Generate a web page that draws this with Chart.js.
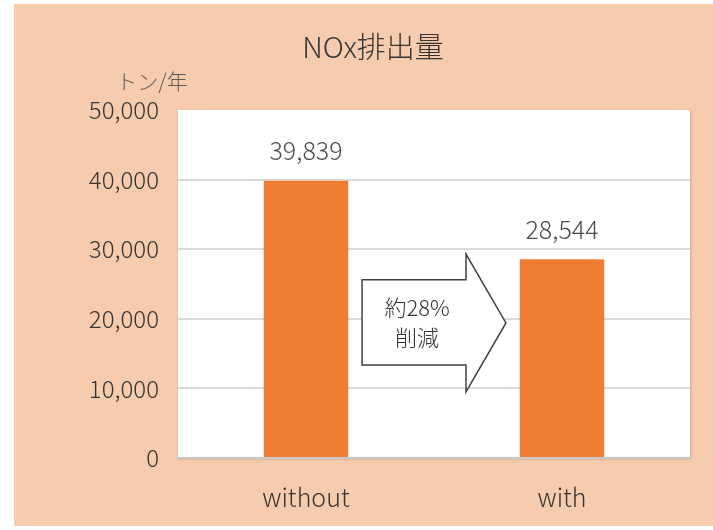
<!DOCTYPE html>
<html>
<head>
<meta charset="utf-8">
<script src="https://cdn.jsdelivr.net/npm/chart.js@4.4.0/dist/chart.umd.min.js"></script>
<style>
html, body { margin: 0; padding: 0; background: #ffffff; }
#wrap { width: 713px; height: 530px; }
</style>
</head>
<body>
<div id="wrap"><canvas id="noxchart"></canvas></div>
<script>
// NOx emissions, tonnes per year
var categories = ["without", "with"]
var emissions = [39839, 28544]
var yTicks = [0, 10000, 20000, 30000, 40000, 50000]
var chartTitle = "NOx排出量"
var unitLabel = "トン/年"
var arrowText = ["約28%", "削減"]

var FONT = "'Noto Sans CJK JP', 'Noto Sans', sans-serif"
var TEXT = "#333333"

function fmt(v) {
    return v.toLocaleString("en-US")
}

// peach panel, white plot area, title and unit
var backdrop = {
    id: "backdrop",
    beforeDraw: function(chart) {
        var ctx = chart.ctx, a = chart.chartArea
        ctx.save()
        ctx.fillStyle = "#ffffff"
        ctx.fillRect(0, 0, chart.width, chart.height)
        ctx.fillStyle = "#f7cbad"
        ctx.fillRect(14, 4, chart.width - 14, 522)
        ctx.shadowColor = "rgba(0,0,0,0.18)"
        ctx.shadowBlur = 3
        ctx.shadowOffsetX = 1
        ctx.shadowOffsetY = 1
        ctx.fillStyle = "#ffffff"
        ctx.fillRect(a.left, a.top, a.right - a.left, a.bottom - a.top)
        ctx.restore()

        ctx.save()
        ctx.fillStyle = TEXT
        ctx.textAlign = "center"
        ctx.textBaseline = "middle"
        ctx.font = "300 29px " + FONT
        ctx.fillText(chartTitle, 373, 47)
        ctx.fillStyle = "#595959"
        ctx.font = "300 21px " + FONT
        ctx.fillText(unitLabel, 152, 81)
        ctx.restore()
    }
}

// value labels over the bars and the reduction arrow
var overlay = {
    id: "overlay",
    afterDatasetsDraw: function(chart) {
        var ctx = chart.ctx
        var meta = chart.getDatasetMeta(0)
        ctx.save()
        ctx.fillStyle = "#4a4a4a"
        ctx.font = "300 25px " + FONT
        ctx.textAlign = "center"
        ctx.textBaseline = "middle"
        meta.data.forEach(function(bar, i) {
            ctx.fillText(fmt(emissions[i]), bar.x, bar.y - 30)
        })
        ctx.restore()

        var xs = chart.scales.x, ys = chart.scales.y
        var x0 = xs.getPixelForValue(0), x1 = xs.getPixelForValue(1)
        var mid = (x0 + x1) / 2, s = x1 - x0
        var left = mid - 0.281 * s
        var neck = mid + 0.125 * s
        var tip = mid + 0.281 * s
        var bodyTop = ys.getPixelForValue(25600)
        var bodyBot = ys.getPixelForValue(13350)
        var headTop = ys.getPixelForValue(29300)
        var headBot = ys.getPixelForValue(9500)
        var cy = ys.getPixelForValue(19400)

        ctx.save()
        ctx.beginPath()
        ctx.moveTo(left, bodyTop)
        ctx.lineTo(neck, bodyTop)
        ctx.lineTo(neck, headTop)
        ctx.lineTo(tip, cy)
        ctx.lineTo(neck, headBot)
        ctx.lineTo(neck, bodyBot)
        ctx.lineTo(left, bodyBot)
        ctx.closePath()
        ctx.fillStyle = "#ffffff"
        ctx.fill()
        ctx.strokeStyle = "#404040"
        ctx.lineWidth = 1.5
        ctx.stroke()

        ctx.fillStyle = TEXT
        ctx.font = "300 22px " + FONT
        ctx.textAlign = "center"
        ctx.textBaseline = "middle"
        var tx = (left + neck) / 2 + 3
        ctx.fillText(arrowText[0], tx, cy - 15)
        ctx.fillText(arrowText[1], tx, cy + 15)
        ctx.restore()
    }
}

new Chart(document.getElementById("noxchart"), {
    type: "bar",
    data: {
        labels: categories,
        datasets: [{
            data: emissions,
            backgroundColor: "#ed7d31",
            borderWidth: 0,
            barPercentage: 0.33,
            categoryPercentage: 1
        }]
    },
    options: {
        responsive: true,
        maintainAspectRatio: false,
        animation: false,
        events: [],
        layout: { padding: { left: 0, right: 23, top: 110, bottom: 0 } },
        plugins: {
            legend: { display: false },
            title: { display: false },
            tooltip: { enabled: false }
        },
        scales: {
            x: {
                grid: { display: false, drawTicks: false },
                border: { display: true, color: "#c8c8c8", width: 2 },
                ticks: {
                    color: TEXT,
                    font: { family: FONT, size: 25, weight: "300" },
                    padding: 24
                },
                afterFit: function(scale) { scale.height = 72 }
            },
            y: {
                min: 0,
                max: 50000,
                afterBuildTicks: function(scale) {
                    scale.ticks = yTicks.map(function(v) { return { value: v } })
                },
                grid: {
                    drawTicks: false,
                    lineWidth: 2,
                    color: function(c) {
                        if (c.tick && (c.tick.value === 0 || c.tick.value === 50000)) return "rgba(0,0,0,0)"
                        return "#d9d9d9"
                    }
                },
                border: { display: false },
                ticks: {
                    color: TEXT,
                    font: { family: FONT, size: 24, weight: "300" },
                    padding: 19,
                    callback: function(v) { return fmt(v) }
                },
                afterFit: function(scale) { scale.width = 178 }
            }
        }
    },
    plugins: [backdrop, overlay]
})
</script>
</body>
</html>
